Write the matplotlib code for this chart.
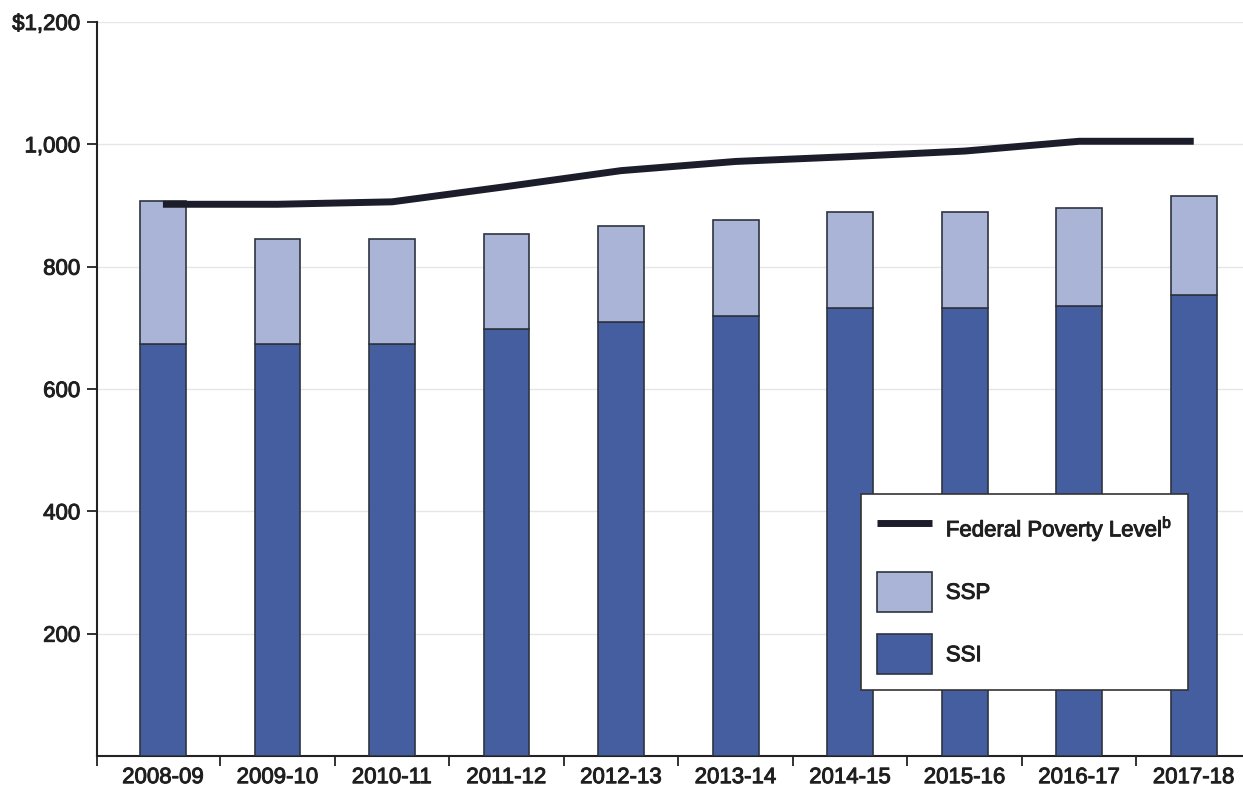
import matplotlib
matplotlib.use("Agg")
import matplotlib.pyplot as plt
import matplotlib.patheffects as pe
import numpy as np

years = ["2008-09", "2009-10", "2010-11", "2011-12", "2012-13",
         "2013-14", "2014-15", "2015-16", "2016-17", "2017-18"]
ssi = [674, 674, 674, 698, 710, 720, 733, 733, 735, 753]
ssp = [233, 171, 171, 156, 156, 156, 156, 156, 161, 163]
fpl = [902, 902, 906, 931, 957, 972, 980, 989, 1005, 1005]
yticks = [200, 400, 600, 800, 1000, 1200]
ytick_labels = ["200", "400", "600", "800", "1,000", "$1,200"]

plt.rcParams['font.family'] = ['Liberation Sans', 'DejaVu Sans']
plt.rcParams['mathtext.fontset'] = 'custom'
plt.rcParams['mathtext.rm'] = 'Liberation Sans'

ssi_color = "#445E9F"
ssp_color = "#A9B4D6"
edge = "#2e3440"
line_color = "#1c1d2a"
text_color = "#1f1f1f"
fs = 16
thick = [pe.withStroke(linewidth=0.7, foreground=text_color)]

fig = plt.figure(figsize=(12.43, 7.91), dpi=100)
ax = fig.add_axes([0.078, 0.0442, 0.922, 0.928])

x = np.arange(len(years))
w = 0.40
b_ssi = ax.bar(x, ssi, width=w, color=ssi_color, edgecolor=edge, linewidth=1.2, zorder=3)
b_ssp = ax.bar(x, ssp, width=w, bottom=ssi, color=ssp_color, edgecolor=edge, linewidth=1.2, zorder=3)
ln, = ax.plot(x, fpl, color=line_color, linewidth=5, solid_capstyle='butt', zorder=4)

ax.set_xlim(-0.576, 9.43)
ax.set_ylim(0, 1200)

ax.set_yticks(yticks)
ax.set_yticklabels(ytick_labels, fontsize=fs, color=text_color)
ax.yaxis.grid(True, color="#e6e6e6", linewidth=1.0, zorder=0)
ax.set_axisbelow(True)

# major ticks at category boundaries (no labels), labels at centers
ax.set_xticks(list(np.arange(len(years) - 1) + 0.5) + [-0.576])
ax.set_xticklabels([])
ax.set_xticks(x, minor=True)
ax.set_xticklabels(years, minor=True, fontsize=fs, color=text_color)
ax.tick_params(axis='x', which='minor', length=0, pad=8)
ax.tick_params(axis='x', which='major', length=7, width=1.3, color="#222222", direction='out')
ax.tick_params(axis='y', length=7, width=1.3, color="#222222", direction='out', pad=5)

for t in ax.get_xticklabels(minor=True) + ax.get_yticklabels():
    t.set_path_effects(thick)

for s in ['top', 'right']:
    ax.spines[s].set_visible(False)
for s in ['left', 'bottom']:
    ax.spines[s].set_linewidth(1.5)
    ax.spines[s].set_color("#222222")

leg = ax.legend([ln, b_ssp, b_ssi],
                ["Federal Poverty Level$^{\\mathrm{b}}$", "SSP", "SSI"],
                loc='lower left', bbox_to_anchor=(0.667, 0.09),
                fontsize=fs, frameon=True, fancybox=False,
                edgecolor="#333333", framealpha=1,
                handlelength=2.5, handleheight=2.4, labelspacing=1.0,
                handletextpad=0.6, borderpad=0.7, borderaxespad=0)
leg.get_frame().set_linewidth(1.2)
leg.set_zorder(10)
for t in leg.get_texts():
    t.set_color(text_color)
    t.set_path_effects(thick)

fig.savefig("out.png", dpi=100)
